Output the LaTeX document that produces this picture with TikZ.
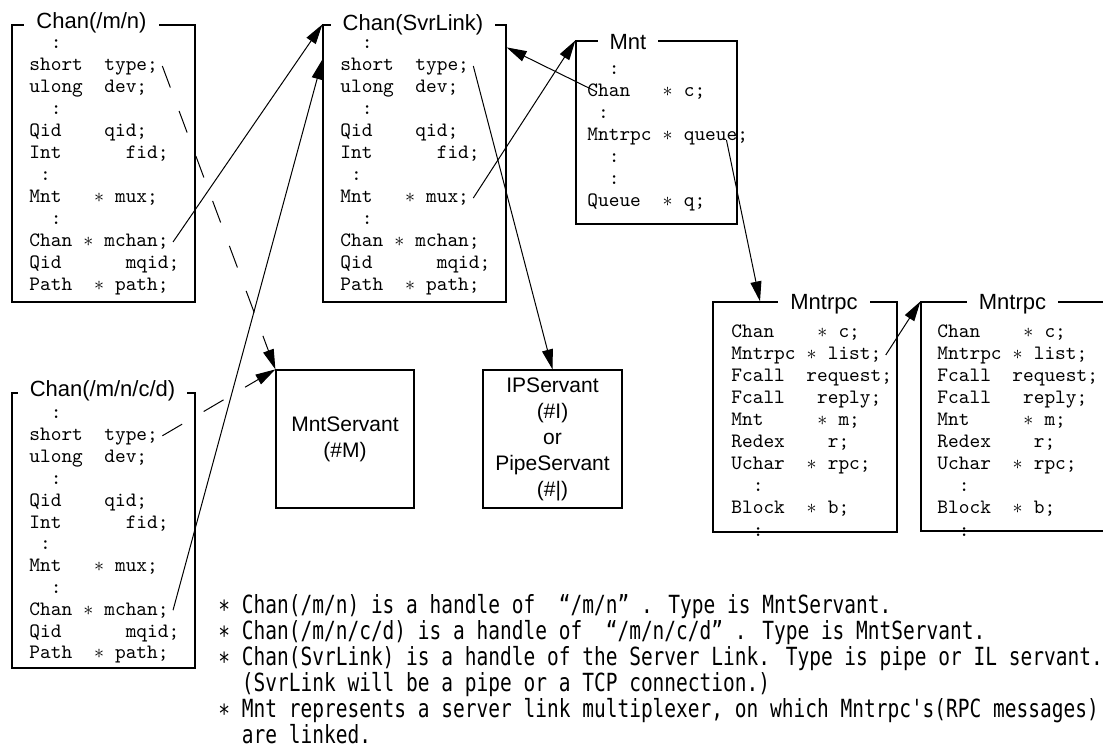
\documentclass[tikz,border=0pt]{standalone}
\usepackage{fontspec}
\usetikzlibrary{arrows.meta}
\newfontfamily\arialfont{Liberation Sans}
\newfontfamily\notesfont[FakeStretch=0.78]{DejaVu Sans Mono}
\newcommand\ptr{\makebox[0.525em]{$\ast$}}
\tikzset{
  strct/.style={draw,line width=0.6pt,inner sep=0pt},
  ttl/.style={fill=white,inner xsep=6pt,inner ysep=1pt,
    font=\arialfont\fontsize{11}{13}\selectfont},
  fld/.style={anchor=base west,inner xsep=2pt,inner ysep=0pt,
    text height=7pt,text depth=2pt,font=\ttfamily\fontsize{10.2}{11}\selectfont},
  srv/.style={draw,line width=0.6pt,minimum height=69pt,align=center,
    font=\arialfont\fontsize{10.5}{13}\selectfont},
  note/.style={anchor=base west,inner sep=0pt,
    font=\notesfont\fontsize{12.5}{13}\selectfont},
  link/.style={-{Triangle[length=10pt,width=5.5pt]},line width=0.5pt},
  dlink/.style={link,dash pattern=on 11.5pt off 12.5pt}
}
\begin{document}
\begin{tikzpicture}[x=0.5pt,y=-0.5pt]
        \useasboundingbox (0,0) rectangle (1103,753);
        \clip (0,0) rectangle (1103,753);
        \def\chanrows{~~:,short~~type;,ulong~~dev;,~~:,Qid~~~~qid;,Int~~~~~~fid;,%
          ~:,Mnt~~~\ptr~mux;,~~:,Chan~\ptr~mchan;,Qid~~~~~~mqid;,Path~~\ptr~path;}
        \def\mntrows{~~:,Chan~~~\ptr~c;,~:,Mntrpc~\ptr~queue;,~~:,~~:,Queue~~\ptr~q;}
        \def\rpcrows{Chan~~~~\ptr~c;,Mntrpc~\ptr~list;,Fcall~~request;,%
          Fcall~~~reply;,Mnt~~~~~\ptr~m;,Redex~~~~r;,Uchar~~\ptr~rpc;,~~:,%
          Block~~\ptr~b;,~~:}
        % struct boxes
        \node[strct,minimum width=91.5pt,minimum height=138.5pt] (mn) at (103.5,163.5) {};
        \node[strct,minimum width=91.5pt,minimum height=138.5pt] (svr) at (414.5,163.5) {};
        \node[strct,minimum width=91.5pt,minimum height=137.5pt] (mncd) at (103.5,530.5) {};
        \node[strct,minimum width=80.5pt,minimum height=91.5pt] (mnt) at (656.5,132.5) {};
        \node[strct,minimum width=92pt,minimum height=115pt] (rpca) at (805,417) {};
        \node[strct,minimum width=92pt,minimum height=114.5pt] (rpcb) at (1013,416.5) {};
        \node[ttl] (mn-t) at (91.5,23) {Chan(/m/n)};
        \node[ttl] (svr-t) at (413,25) {Chan(SvrLink)};
        \node[ttl] (mncd-t) at (102.5,391) {Chan(/m/n/c/d)};
        \node[ttl] (mnt-t) at (628,42) {Mnt};
        \node[ttl] (rpca-t) at (824,304) {Mntrpc};
        \node[ttl] (rpcb-t) at (1012.5,304) {Mntrpc};
        % fields
        \foreach \t [count=\i] in \chanrows {
            \node[fld] (mn\i) at (25,{49+22*(\i-1)}) {\t};
            \node[fld] (svr\i) at (336,{49+22*(\i-1)}) {\t};
            \node[fld] (mncd\i) at (25,{419+21.8*(\i-1)}) {\t};
        }
        \foreach \t [count=\i] in \mntrows
        \node[fld] (mnt\i) at (583,{75+22*(\i-1)}) {\t};
        \foreach \t [count=\i] in \rpcrows {
            \node[fld] (rpca\i) at (727,{338+22*(\i-1)}) {\t};
            \node[fld] (rpcb\i) at (933,{338+22*(\i-1)}) {\t};
        }
        % servants
        \node[srv,minimum width=69pt] (msrv) at (345,439) {MntServant\\(\#M)};
        \node[srv,minimum width=69.5pt] (psrv) at (552.5,439)
        {IPServant\\(\#I)\\or\\PipeServant\\(\#|)};
        % links
        \draw[link] (mn10.east) -- (svr.north west);
        \draw[link] (mncd10.east) -- ([yshift=-17.5pt]svr.north west);
        \draw[dlink] (mn2.east) -- (msrv.north west);
        \draw[dlink] (mncd2.east) -- (msrv.north west);
        \draw[link] (svr2.east) -- (psrv.north);
        \draw[link] (svr8.east) -- (mnt.north west);
        \draw[link] ([xshift=7pt]mnt2.west) -- ([yshift=-11.5pt]svr.north east);
        \draw[link] ([xshift=-13pt,yshift=-2pt]mnt4.east) -- ([xshift=-22.5pt]rpca.north);
        \draw[link] (rpca2.east) -- (rpcb.north west);
        % notes
        \foreach \t [count=\i] in {%
            {∗ Chan(/m/n) is a handle of~~“/m/n”~. Type is MntServant.},%
            {∗ Chan(/m/n/c/d) is a handle of~~“/m/n/c/d”~. Type is MntServant.},%
            {∗ Chan(SvrLink) is a handle of the Server Link. Type is pipe or IL servant.},%
            {~~(SvrLink will be a pipe or a TCP connection.)},%
            {∗ Mnt represents a server link multiplexer, on which Mntrpc's(RPC messages)},%
            {~~are linked.}}
        \node[note] (note\i) at (218,{613+26*(\i-1)}) {\t};
\end{tikzpicture}
\end{document}
